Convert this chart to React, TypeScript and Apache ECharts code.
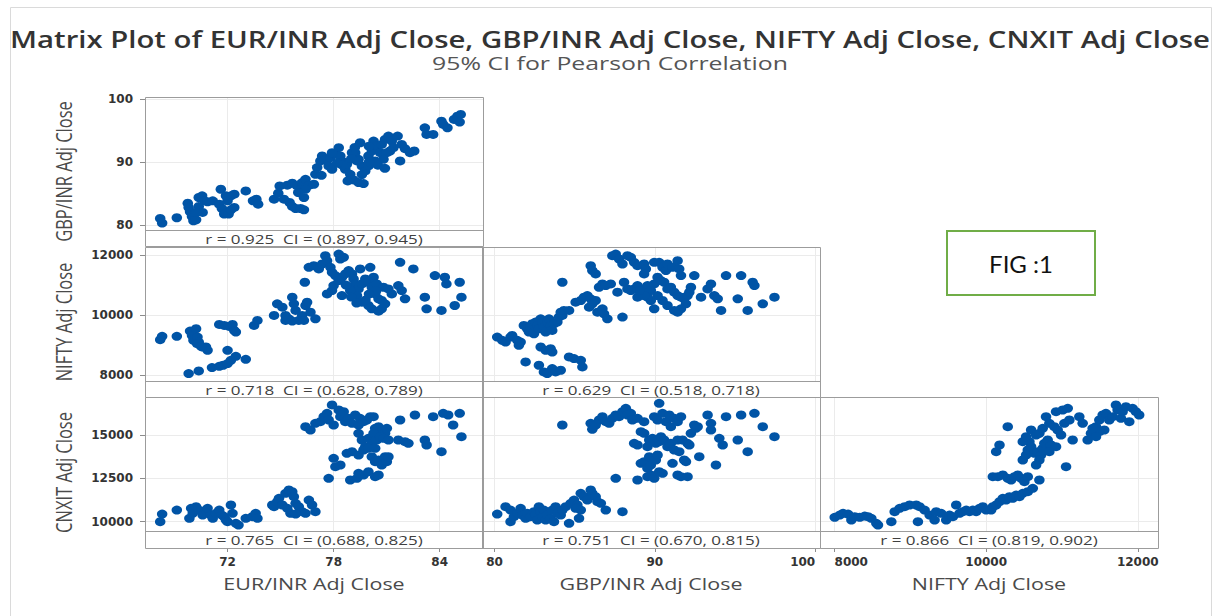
import React, { useEffect, useRef } from "react";
import * as echarts from "echarts";

const titleText = "Matrix Plot of EUR/INR Adj Close, GBP/INR Adj Close, NIFTY Adj Close, CNXIT Adj Close";
const subtitleText = "95% CI for Pearson Correlation";
const figText = "FIG :1";
const variableNames = ["EUR/INR Adj Close", "GBP/INR Adj Close", "NIFTY Adj Close", "CNXIT Adj Close"];
const eurTicks = [72, 78, 84];
const gbpTicks = [80, 90, 100];
const niftyTicks = [8000, 10000, 12000];
const cnxitTicks = [10000, 12500, 15000];
const corrLabels = [
  "r = 0.925  CI = (0.897, 0.945)",
  "r = 0.718  CI = (0.628, 0.789)",
  "r = 0.629  CI = (0.518, 0.718)",
  "r = 0.765  CI = (0.688, 0.825)",
  "r = 0.751  CI = (0.670, 0.815)",
  "r = 0.866  CI = (0.819, 0.902)",
];

const eurGbp = [
  [68.19,81.05],[68.30,80.32],[69.13,81.16],[69.75,83.47],[69.80,82.79],[69.88,82.11],[69.99,81.37],[70.07,80.68],[70.22,80.84],[70.37,84.37],[70.56,84.63],[70.69,83.84],[70.87,83.68],[71.16,83.84],[70.37,82.95],[70.59,82.00],[70.22,82.00],[71.62,85.68],[71.53,83.32],[71.68,82.63],[71.81,81.74],[72.06,81.74],[72.19,82.42],[72.38,82.79],[72.00,83.84],[72.19,84.63],[72.38,84.89],[71.91,84.63],[73.03,85.42],[73.44,83.84],[73.63,84.11],[73.73,83.32],[74.63,84.11],[74.87,85.05],[74.95,86.21],[75.19,84.11],[75.38,86.32],[75.51,83.58],[75.66,82.95],[75.85,82.63],[76.13,82.63],[76.32,82.42],[75.66,86.63],[75.94,86.21],[76.22,86.74],[76.41,87.26],[76.63,86.32],[76.88,86.47],[76.41,85.68],[76.00,85.16],[76.32,84.37],[76.97,88.05],[77.31,87.89],[77.07,89.11],[77.25,90.16],[77.35,90.95],[77.50,90.32],[77.72,89.37],[77.91,88.84],[77.82,90.68],[78.10,91.21],[78.29,92.26],[78.38,90.95],[78.57,90.00],[78.66,88.84],[78.94,88.05],[79.13,87.16],[79.41,86.74],[79.69,86.58],[79.22,91.47],[79.41,90.42],[79.60,89.37],[79.79,88.58],[79.97,90.95],[80.16,91.74],[80.26,93.32],[80.44,92.53],[80.63,91.47],[80.72,92.79],[80.91,93.58],[81.10,94.11],[81.29,93.32],[81.38,92.26],[81.01,91.47],[80.82,90.42],[79.97,89.37],[79.50,93.05],[79.04,91.47],[78.75,89.63],[77.91,91.47],[81.62,94.11],[81.76,90.16],[81.85,92.79],[82.04,92.11],[82.32,91.47],[82.56,91.74],[83.16,95.42],[83.26,94.37],[83.63,94.37],[84.10,96.47],[84.20,95.95],[84.44,95.42],[84.81,96.74],[85.00,97.26],[85.19,97.53],[85.13,96.32],[81.19,91.74],[80.35,90.16],[79.32,90.16],[78.50,89.50],[79.00,90.50],[80.00,90.00],[80.50,89.50],[79.60,88.00],[78.20,89.80],[80.90,89.00],[79.20,92.30],[80.00,92.50],[78.80,87.00],
];

const eurNifty = [
  [68.19,9182],[68.30,9293],[69.13,9293],[69.88,9470],[69.99,9326],[70.07,9160],[70.22,9547],[70.30,9271],[70.37,9105],[70.59,8939],[70.78,8939],[70.87,8829],[70.28,9050],[70.50,8961],[69.80,8055],[70.37,8144],[71.12,8254],[71.53,8298],[71.75,8332],[72.00,8387],[72.19,8497],[72.47,8630],[73.03,8530],[72.00,8829],[71.53,9691],[71.81,9657],[72.09,9624],[72.28,9691],[72.38,9492],[72.47,9436],[73.50,9657],[73.69,9823],[74.63,9989],[74.81,10376],[75.10,10265],[75.28,9989],[75.28,9823],[75.47,9878],[75.66,10597],[75.75,10376],[75.85,10155],[76.03,9823],[76.22,9989],[76.41,10320],[76.50,10431],[76.69,10099],[76.97,9878],[76.32,9823],[75.66,9801],[76.37,11094],[76.60,11591],[76.88,11646],[77.16,11536],[77.35,11702],[77.53,11978],[77.63,11812],[77.82,11591],[78.29,12033],[78.38,11867],[78.57,11923],[77.91,11425],[78.10,11315],[77.63,10707],[77.91,10818],[78.00,10983],[78.29,11149],[78.47,11260],[78.66,11370],[78.85,11481],[79.04,11370],[79.13,11204],[79.22,11039],[79.41,10873],[79.60,11039],[79.79,11204],[79.97,11094],[80.16,10928],[80.35,10707],[80.54,10541],[80.72,10486],[80.91,10376],[80.16,10210],[79.97,10320],[79.60,10431],[79.32,10652],[78.94,10818],[78.47,10652],[79.50,11536],[80.07,11591],[80.26,11260],[80.44,11039],[80.82,10928],[81.10,10873],[81.29,10707],[81.66,10983],[81.85,10818],[82.04,10541],[80.72,10210],[80.54,10133],[81.76,11757],[82.51,11536],[83.16,10597],[83.26,10210],[83.73,11315],[84.10,10155],[84.29,11260],[84.38,11039],[84.85,10320],[85.13,11094],[85.23,10597],[79.00,10600],[79.80,10500],[80.40,10800],[78.70,11000],[80.00,10700],[79.30,10400],
];

const gbpNifty = [
  [80.17,9271],[80.48,9160],[80.69,9105],[81.00,9271],[81.10,9326],[81.42,9160],[81.52,8994],[81.63,9105],[81.83,9657],[82.04,9547],[82.15,9436],[82.25,9602],[82.35,9713],[82.46,9381],[82.56,9768],[82.67,9657],[82.77,9547],[82.88,9878],[82.98,9768],[83.08,9602],[83.19,9436],[83.29,9768],[83.40,9878],[83.50,9657],[83.60,9492],[83.71,9713],[83.92,9768],[84.02,9934],[84.13,10099],[84.23,9989],[84.33,10155],[84.65,10155],[84.23,11094],[82.88,8939],[83.19,8829],[83.50,8884],[83.60,8773],[81.94,8442],[82.77,8332],[83.08,8111],[83.29,8055],[83.60,8221],[83.81,8111],[84.13,8166],[84.65,8608],[84.96,8553],[85.38,8497],[85.48,8276],[85.06,10431],[85.38,10486],[85.58,10597],[85.79,10652],[86.00,10541],[85.90,10265],[86.10,10376],[86.31,10486],[86.42,10099],[86.73,10210],[86.83,10044],[87.04,9878],[86.52,10928],[86.73,11039],[86.94,10983],[87.25,11039],[87.67,10762],[87.98,9934],[88.08,11094],[86.00,11646],[86.10,11481],[86.31,11370],[87.35,11978],[87.56,12033],[87.77,11867],[87.98,11702],[88.29,11978],[88.50,11923],[88.71,11757],[88.92,11646],[89.33,11702],[89.44,11536],[89.33,11370],[89.96,11757],[90.27,11757],[90.48,11591],[90.69,11481],[90.79,11702],[91.10,11591],[91.42,11812],[91.52,11536],[91.63,11315],[92.46,11315],[88.71,10873],[88.92,10983],[89.13,10762],[89.33,10873],[89.54,10983],[89.75,10818],[89.96,11039],[90.17,11260],[90.38,11149],[90.58,11094],[90.79,10873],[91.00,10928],[91.21,10762],[91.42,10652],[91.63,10597],[91.83,10541],[92.04,10652],[92.25,10928],[92.15,10762],[91.94,10376],[91.63,10210],[91.42,10099],[91.21,10155],[90.79,10320],[90.48,10486],[90.17,10652],[89.96,10210],[89.75,10486],[89.54,10597],[89.33,10652],[88.92,10597],[89.02,10818],[88.50,10818],[88.29,10873],[92.88,10597],[93.29,10873],[93.50,11039],[93.71,10652],[93.92,10541],[94.13,10155],[94.44,11315],[95.17,10541],[95.38,11315],[95.79,10155],[96.10,11094],[96.21,10983],[96.73,10376],[97.46,10597],
];

const eurCnxit = [
  [68.19,10000],[68.30,10442],[69.13,10673],[69.84,10192],[69.94,10769],[70.03,10481],[70.22,10865],[70.37,10673],[70.59,10385],[70.78,10673],[70.87,10769],[71.06,10385],[71.16,10192],[71.34,10481],[71.53,10673],[71.68,10385],[71.81,10288],[71.91,10096],[72.00,10000],[72.19,10962],[72.28,10481],[72.47,9904],[72.62,9808],[73.03,10192],[73.40,10288],[73.59,10481],[73.69,10192],[74.53,10962],[74.63,10865],[74.81,11154],[74.91,11346],[75.10,10962],[75.28,11635],[75.47,11827],[75.66,11731],[75.75,11442],[75.85,11058],[76.03,10865],[76.22,10577],[76.41,10481],[76.60,11250],[76.78,10962],[76.97,10577],[75.38,10769],[75.56,10481],[75.85,10442],[76.41,15481],[76.69,15288],[76.97,15673],[77.25,15769],[77.44,16058],[77.63,16250],[77.72,15865],[77.91,16731],[78.00,15577],[78.29,16442],[78.38,16058],[78.57,16346],[78.66,15769],[78.85,15961],[79.04,15673],[79.22,16154],[79.41,15577],[79.50,15961],[79.69,15769],[79.88,15865],[80.07,16058],[80.26,16058],[80.35,15384],[80.54,15481],[80.72,15192],[80.91,15096],[81.01,15384],[79.41,15096],[79.60,14711],[79.79,14327],[79.97,14808],[80.16,14519],[80.26,15096],[80.35,14231],[80.44,14711],[80.63,14904],[80.82,14808],[81.10,14711],[78.75,13942],[79.04,14038],[79.41,13846],[79.69,14135],[79.97,14231],[80.16,13750],[80.35,13461],[80.54,13558],[80.72,13269],[80.91,13750],[81.01,13461],[77.72,12500],[78.00,13654],[78.10,13173],[78.38,13269],[78.94,12404],[79.32,12500],[79.41,12788],[79.69,12692],[79.97,12885],[80.35,12596],[80.54,12692],[81.10,13750],[81.66,14711],[81.76,15865],[82.04,14615],[82.23,14519],[82.60,16154],[83.16,14711],[83.26,14423],[83.63,16058],[84.10,14038],[84.20,16250],[84.48,16154],[84.76,15577],[85.13,16250],[85.23,14904],
];

const gbpCnxit = [
  [80.17,10442],[80.69,10865],[81.00,10673],[81.00,10000],[81.21,10288],[81.42,10481],[81.63,10769],[81.73,10385],[81.94,10192],[82.04,10481],[82.25,10288],[82.46,10577],[82.56,10385],[82.67,10096],[82.77,10865],[82.88,10577],[82.98,10288],[83.08,10673],[83.19,10096],[83.29,10385],[83.50,10192],[83.60,10673],[83.71,10000],[83.81,10865],[83.92,10481],[84.13,10385],[84.23,10673],[84.44,10865],[84.65,9904],[84.75,11058],[84.96,11250],[85.17,10962],[85.27,10192],[85.38,11635],[85.58,11442],[85.79,11250],[86.00,11827],[86.10,11635],[86.31,11442],[86.42,11154],[86.63,11058],[86.94,10673],[85.38,10673],[85.06,10769],[87.98,10577],[84.23,15577],[86.00,15673],[86.10,15327],[86.31,15577],[86.52,15865],[86.73,16058],[86.94,15769],[87.15,15673],[87.35,15961],[87.56,16154],[87.77,16058],[87.98,16346],[88.19,16538],[88.29,16154],[88.50,16250],[88.60,15865],[88.92,15961],[89.33,15769],[87.56,12500],[88.92,12404],[89.54,12596],[89.75,12692],[89.96,12500],[90.27,12885],[90.48,12788],[91.42,12692],[91.63,12596],[92.04,12596],[89.13,13365],[89.33,13461],[89.54,13077],[89.65,13750],[89.75,13269],[90.06,13558],[90.17,13846],[88.71,14519],[88.92,14423],[89.13,15192],[89.33,15096],[89.54,14327],[89.65,14711],[89.85,14808],[90.06,14519],[90.27,14615],[90.38,14904],[90.58,14711],[90.79,14327],[91.00,14519],[91.21,14135],[91.42,14711],[91.52,14038],[91.73,14711],[91.94,13461],[92.04,14519],[92.15,14423],[92.25,15096],[92.56,15384],[92.67,15481],[92.77,13750],[91.10,13365],[91.83,13558],[93.81,13269],[89.96,16058],[90.17,15865],[90.27,16827],[90.48,16250],[90.69,15769],[90.90,16154],[91.00,15481],[91.21,15961],[91.42,15769],[91.63,16058],[92.46,15577],[93.29,16154],[93.50,15673],[93.50,15288],[94.02,14808],[94.23,14423],[94.44,16058],[95.17,14711],[95.38,16154],[95.79,14038],[96.21,16250],[96.73,15481],[97.46,14904],
];

const niftyCnxit = [
  [8002,10250],[8068,10385],[8112,10481],[8178,10442],[8222,10096],[8266,10288],[8332,10250],[8398,10327],[8442,10288],[8485,10192],[8551,9904],[8573,9808],[8749,10000],[8793,10577],[8859,10769],[8924,10865],[8990,10962],[9078,10962],[9100,10000],[9122,10865],[9188,10673],[9254,10385],[9320,10096],[9341,10577],[9407,10481],[9473,10096],[9517,10385],[9561,10288],[9605,10962],[9649,10481],[9693,10577],[9737,10673],[9781,10577],[9824,10673],[9868,10577],[9912,10769],[9956,10865],[10000,10673],[10066,10673],[10088,10865],[10132,10962],[10176,11154],[10220,11346],[10263,11250],[10307,11442],[10351,11346],[10395,11538],[10439,11442],[10483,11635],[10549,11731],[10615,11923],[10088,12596],[10154,12596],[10220,12692],[10285,12500],[10329,12404],[10373,12596],[10417,12692],[10461,12500],[10505,12308],[10549,12596],[10702,12404],[10132,14038],[10176,14423],[10285,15481],[10483,13558],[10527,13846],[10549,14135],[10593,14327],[10637,13942],[10680,14038],[10724,13846],[10746,14231],[10768,14519],[10812,14711],[10856,14423],[10922,14327],[10571,14615],[10483,14615],[10527,14904],[10593,15288],[10659,15000],[10702,15096],[10746,15384],[10790,16058],[10834,15673],[10900,15481],[10944,15288],[10988,15000],[11032,15673],[11098,15865],[11141,14711],[11054,13173],[11010,16442],[11076,16538],[10922,16346],[11229,16058],[11273,15673],[11339,14711],[11383,15096],[11449,15481],[11493,15865],[11537,16154],[11580,16250],[11624,15865],[11668,16058],[11712,16731],[11734,16442],[11778,15961],[11800,16346],[11844,16635],[11888,15769],[11932,16538],[11976,16346],[12019,16154],[11558,15288],[11493,15192],[11449,14904],[11405,15384],[10834,14038],[10702,13558],[10659,13269],
];

// layout
const colLeft = [145, 482, 820];
const colWidth = 338;
const rowTop = [97, 247, 397];
const rowDataH = [133, 134, 134];
const rowStripH = [16, 16, 17];
const H_STRETCH = 1.3;

const varRanges = [
  [67.33, 86.45],
  [79.22, 100.3],
  [7808, 12267],
  [9464, 17191],
];
const varTicks = [eurTicks, gbpTicks, niftyTicks, cnxitTicks];

const panels = [
  { row: 0, col: 0, xv: 0, yv: 1, data: eurGbp, label: corrLabels[0] },
  { row: 1, col: 0, xv: 0, yv: 2, data: eurNifty, label: corrLabels[1] },
  { row: 1, col: 1, xv: 1, yv: 2, data: gbpNifty, label: corrLabels[2] },
  { row: 2, col: 0, xv: 0, yv: 3, data: eurCnxit, label: corrLabels[3] },
  { row: 2, col: 1, xv: 1, yv: 3, data: gbpCnxit, label: corrLabels[4] },
  { row: 2, col: 2, xv: 2, yv: 3, data: niftyCnxit, label: corrLabels[5] },
];

const FONT = '"Open Sans", "Noto Sans", sans-serif';
const TICK_FONT = '"DejaVu Sans", sans-serif';
const plainNumber = (v: number) => String(v);

function buildOption() {
  const grid: any[] = [];
  const xAxis: any[] = [];
  const yAxis: any[] = [];
  const series: any[] = [];
  const graphic: any[] = [];

  panels.forEach((p, i) => {
    const left = colLeft[p.col];
    const top = rowTop[p.row];
    const h = rowDataH[p.row];
    const sh = rowStripH[p.row];
    grid.push({ left, top, width: colWidth, height: h, containLabel: false, outerBoundsMode: "none" });
    const showX = p.row === 2;
    const showY = p.col === 0;
    xAxis.push({
      type: "value",
      gridIndex: i,
      min: varRanges[p.xv][0],
      max: varRanges[p.xv][1],
      offset: sh,
      axisLine: { show: false },
      axisTick: {
        show: showX,
        customValues: varTicks[p.xv],
        length: 4,
        lineStyle: { color: "#8c8c8c", width: 1 },
      },
      axisLabel: {
        show: showX,
        customValues: varTicks[p.xv],
        formatter: plainNumber,
        margin: 8,
        color: "#333333",
        fontFamily: TICK_FONT,
        fontWeight: "bold",
        fontSize: 12,
        alignMaxLabel: p.xv === 1 ? "right" : undefined,
        alignMinLabel: p.xv === 2 ? "left" : undefined,
      },
      splitLine: { show: true, lineStyle: { color: "#ebebeb", width: 1 } },
    });
    yAxis.push({
      type: "value",
      gridIndex: i,
      min: varRanges[p.yv][0],
      max: varRanges[p.yv][1],
      axisLine: { show: false },
      axisTick: {
        show: showY,
        customValues: varTicks[p.yv],
        length: 5,
        lineStyle: { color: "#8c8c8c", width: 1 },
      },
      axisLabel: {
        show: showY,
        customValues: varTicks[p.yv],
        formatter: plainNumber,
        margin: 12,
        color: "#333333",
        fontFamily: TICK_FONT,
        fontWeight: "bold",
        fontSize: 12,
      },
      splitLine: { show: true, lineStyle: { color: "#ebebeb", width: 1 } },
    });
    series.push({
      type: "scatter",
      xAxisIndex: i,
      yAxisIndex: i,
      data: p.data,
      symbol: "circle",
      symbolSize: [10.5, 9],
      itemStyle: { color: "#0054a6", opacity: 1 },
      emphasis: { disabled: true },
      z: 3,
    });
    graphic.push({
      type: "rect",
      shape: { x: left + 0.5, y: top + 0.5, width: colWidth, height: h + sh },
      style: { fill: "none", stroke: "#9c9c9c", lineWidth: 1 },
      z: 10,
      silent: true,
    });
    graphic.push({
      type: "line",
      shape: { x1: left, y1: top + h + 0.5, x2: left + colWidth, y2: top + h + 0.5 },
      style: { stroke: "#9c9c9c", lineWidth: 1 },
      z: 10,
      silent: true,
    });
    graphic.push({
      type: "text",
      x: left + colWidth / 2,
      y: top + h + sh / 2 + 1,
      scaleX: 1.42,
      style: {
        text: p.label,
        fill: "#404040",
        font: `12px ${FONT}`,
        textAlign: "center",
        textVerticalAlign: "middle",
        align: "center",
        verticalAlign: "middle",
      },
      z: 10,
      silent: true,
    });
  });

  [0, 1, 2].forEach((c) => {
    graphic.push({
      type: "text",
      x: colLeft[c] + colWidth / 2,
      y: 584,
      scaleX: H_STRETCH,
      style: {
        text: variableNames[c],
        fill: "#4a4a4a",
        font: `16.5px ${FONT}`,
        textAlign: "center",
        textVerticalAlign: "middle",
        align: "center",
        verticalAlign: "middle",
      },
      silent: true,
    });
  });
  [0, 1, 2].forEach((r) => {
    graphic.push({
      type: "text",
      x: 64,
      y: rowTop[r] + (rowDataH[r] + rowStripH[r]) / 2,
      rotation: Math.PI / 2,
      scaleY: H_STRETCH,
      style: {
        text: variableNames[r + 1],
        fill: "#4a4a4a",
        font: `16.5px ${FONT}`,
        textAlign: "center",
        textVerticalAlign: "middle",
        align: "center",
        verticalAlign: "middle",
      },
      silent: true,
    });
  });

  graphic.push({
    type: "text",
    x: 610,
    y: 39,
    scaleX: 1.222,
    style: {
      text: titleText,
      fill: "#333333",
      font: `600 24px ${FONT}`,
      textAlign: "center",
      textVerticalAlign: "middle",
      align: "center",
      verticalAlign: "middle",
    },
    silent: true,
  });
  graphic.push({
    type: "text",
    x: 610,
    y: 63,
    scaleX: 1.38,
    style: {
      text: subtitleText,
      fill: "#555555",
      font: `18px ${FONT}`,
      textAlign: "center",
      textVerticalAlign: "middle",
      align: "center",
      verticalAlign: "middle",
    },
    silent: true,
  });

  graphic.push({
    type: "rect",
    shape: { x: 10.5, y: 7.5, width: 1201, height: 640 },
    style: { fill: "none", stroke: "#dadada", lineWidth: 1 },
    silent: true,
  });

  graphic.push({
    type: "rect",
    shape: { x: 947, y: 231, width: 148, height: 64 },
    style: { fill: "#ffffff", stroke: "#70ad47", lineWidth: 2 },
    silent: true,
  });
  graphic.push({
    type: "text",
    x: 1021,
    y: 263,
    style: {
      text: figText,
      fill: "#111111",
      font: `24px Lato, "Liberation Sans", sans-serif`,
      textAlign: "center",
      textVerticalAlign: "middle",
      align: "center",
      verticalAlign: "middle",
    },
    silent: true,
  });

  return {
    animation: false,
    backgroundColor: "#ffffff",
    grid,
    xAxis,
    yAxis,
    series,
    graphic: { elements: graphic },
  };
}

export default function App() {
  const ref = useRef<HTMLDivElement>(null);
  useEffect(() => {
    if (!ref.current) return;
    const chart = echarts.init(ref.current, undefined, { renderer: "svg" });
    chart.setOption(buildOption() as any);
    return () => {
      chart.dispose();
    };
  }, []);
  return (
    <div
      ref={ref}
      style={{ position: "absolute", left: 0, top: 0, width: 1220, height: 616, background: "#fff" }}
    />
  );
}
